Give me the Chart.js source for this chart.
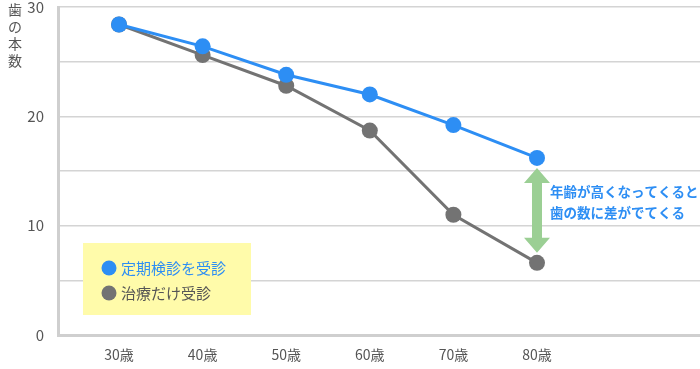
<!DOCTYPE html>
<html>
<head>
<meta charset="utf-8">
<script src="https://cdn.jsdelivr.net/npm/chart.js@4/dist/chart.umd.min.js"></script>
<style>
html,body{margin:0;padding:0;background:#fff;}
#wrap{position:relative;width:700px;height:369px;}
</style>
</head>
<body>
<div id="wrap"><canvas id="c" width="700" height="369"></canvas></div>
<script>
const ages = [30, 40, 50, 60, 70, 80];
const checkupTeeth = [28.4, 26.4, 23.8, 22.0, 19.2, 16.2];
const treatmentOnlyTeeth = [28.4, 25.6, 22.8, 18.7, 11.0, 6.6];
const yTicks = [0, 10, 20, 30];
const seriesNames = ['定期検診を受診', '治療だけ受診'];
const yTitle = '歯の本数';
const noteLines = ['年齢が高くなってくると', '歯の数に差がでてくる'];

const BLUE = '#2d8ef4';
const GRAY = '#737373';
const FONT = '"Noto Sans CJK JP", "Noto Sans", sans-serif';

const pts = arr => ages.map((a, i) => ({x: a, y: arr[i]}));

const extras = {
  id: 'extras',
  afterDraw(chart) {
    const ctx = chart.ctx;
    const xs = chart.scales.x, ys = chart.scales.y;
    ctx.save();
    // y title (vertical stacked)
    ctx.fillStyle = '#555';
    ctx.font = '14px ' + FONT;
    ctx.textAlign = 'center';
    ctx.textBaseline = 'middle';
    const chars = Array.from(yTitle);
    chars.forEach((ch, i) => ctx.fillText(ch, 15, 10 + i * 17));

    // legend box
    ctx.fillStyle = '#fffbaa';
    ctx.fillRect(83, 243, 168, 72);
    const colors = [BLUE, GRAY];
    ctx.font = '15px ' + FONT;
    ctx.textAlign = 'left';
    seriesNames.forEach((n, i) => {
      const cy = 268 + i * 25;
      ctx.beginPath();
      ctx.arc(109, cy, 7.5, 0, Math.PI * 2);
      ctx.fillStyle = colors[i];
      ctx.fill();
      ctx.fillStyle = i === 0 ? BLUE : '#555';
      ctx.fillText(n, 121, cy);
    });

    // arrow between the two series at last age
    const last = ages.length - 1;
    const ax = xs.getPixelForValue(ages[last]);
    const top = ys.getPixelForValue(checkupTeeth[last]) + 10;
    const bot = ys.getPixelForValue(treatmentOnlyTeeth[last]) - 10;
    const hw = 13, hh = 15, sw = 5;
    ctx.fillStyle = '#9bcf94';
    ctx.beginPath();
    ctx.moveTo(ax, top);
    ctx.lineTo(ax + hw, top + hh);
    ctx.lineTo(ax + sw, top + hh);
    ctx.lineTo(ax + sw, bot - hh);
    ctx.lineTo(ax + hw, bot - hh);
    ctx.lineTo(ax, bot);
    ctx.lineTo(ax - hw, bot - hh);
    ctx.lineTo(ax - sw, bot - hh);
    ctx.lineTo(ax - sw, top + hh);
    ctx.lineTo(ax - hw, top + hh);
    ctx.closePath();
    ctx.fill();

    // note text
    ctx.fillStyle = BLUE;
    ctx.font = 'bold 13.5px ' + FONT;
    ctx.textAlign = 'left';
    noteLines.forEach((t, i) => ctx.fillText(t, ax + 13, 192 + i * 21));
    ctx.restore();
  }
};

function zeroPad(axis) {
  axis.paddingTop = 0; axis.paddingBottom = 0;
  axis.paddingLeft = 0; axis.paddingRight = 0;
}

new Chart(document.getElementById('c'), {
  type: 'line',
  data: {
    datasets: [
      {label: seriesNames[0], data: pts(checkupTeeth), borderColor: BLUE, backgroundColor: BLUE,
       borderWidth: 3, pointRadius: 8, pointHoverRadius: 8, pointBorderWidth: 0, clip: false, tension: 0},
      {label: seriesNames[1], data: pts(treatmentOnlyTeeth), borderColor: GRAY, backgroundColor: GRAY,
       borderWidth: 3, pointRadius: 8, pointHoverRadius: 8, pointBorderWidth: 0, clip: false, tension: 0}
    ]
  },
  options: {
    responsive: false,
    animation: false,
    devicePixelRatio: 1,
    layout: {autoPadding: false, padding: {top: 7, right: 0, left: 0, bottom: 0}},
    plugins: {legend: {display: false}, tooltip: {enabled: false}},
    scales: {
      x: {
        type: 'linear', min: 22.7, max: 99.5,
        afterBuildTicks(axis) { axis.ticks = ages.map(v => ({value: v})); },
        afterFit(axis) { axis.height = 34; zeroPad(axis); },
        grid: {display: false, drawTicks: false},
        border: {display: true, color: '#cfcfcf', width: 3},
        ticks: {padding: 11, color: '#555', font: {family: FONT, size: 14},
                callback: v => v + '歳', maxRotation: 0, autoSkip: false}
      },
      y: {
        min: 0, max: 30,
        afterBuildTicks(axis) { axis.ticks = [0,5,10,15,20,25,30].map(v => ({value: v})); },
        afterFit(axis) { axis.width = 58; zeroPad(axis); },
        grid: {color: '#d4d4d4', lineWidth: 1.5, drawTicks: false},
        border: {display: true, color: '#cfcfcf', width: 3},
        ticks: {padding: 14, color: '#555', font: {family: FONT, size: 15},
                callback: v => yTicks.includes(v) ? String(v) : ''}
      }
    }
  },
  plugins: [extras]
});
</script>
</body>
</html>
